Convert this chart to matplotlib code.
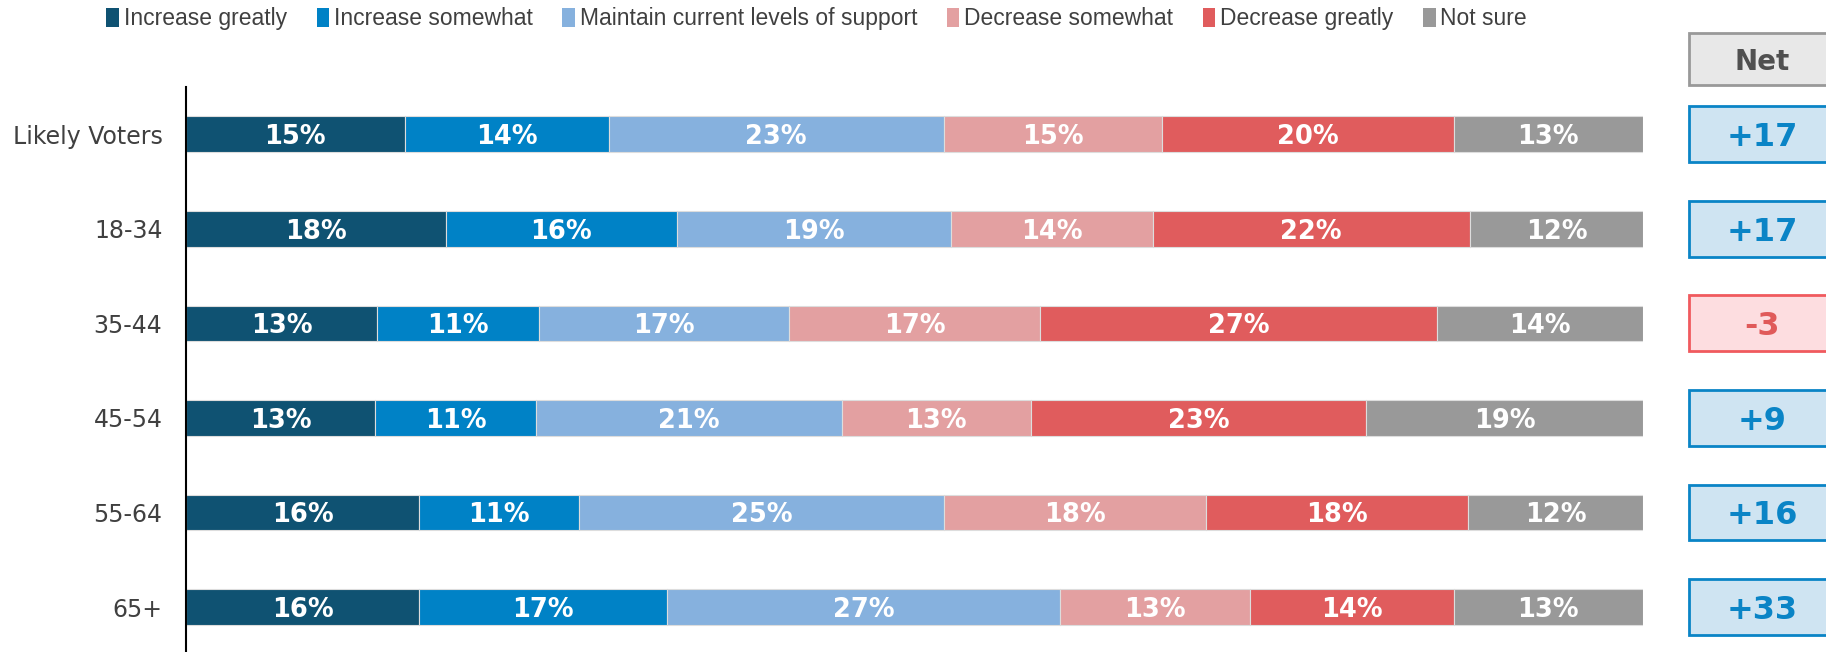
import matplotlib.pyplot as plt
import numpy as np
from matplotlib.patches import Rectangle, Patch

# data
groups = ["Likely Voters", "18-34", "35-44", "45-54", "55-64", "65+"]
series = ["Increase greatly", "Increase somewhat", "Maintain current levels of support",
          "Decrease somewhat", "Decrease greatly", "Not sure"]
increase_greatly = [15, 18, 13, 13, 16, 16]
increase_somewhat = [14, 16, 11, 11, 11, 17]
maintain = [23, 19, 17, 21, 25, 27]
decrease_somewhat = [15, 14, 17, 13, 18, 13]
decrease_greatly = [20, 22, 27, 23, 18, 14]
not_sure = [13, 12, 14, 19, 12, 13]

colors = ["#0f5272", "#0082c6", "#86b1de", "#e3a0a1", "#e05c5d", "#999999"]

vals = np.array([increase_greatly, increase_somewhat, maintain,
                 decrease_somewhat, decrease_greatly, not_sure], dtype=float)
shares = vals / vals.sum(axis=0)  # bars fill the full width
net = vals[0] + vals[1] + vals[2] - vals[3] - vals[4]

fig = plt.figure(figsize=(18.26, 6.52), dpi=100)
ax = fig.add_axes([0.1019, 0.0, 0.7979, 0.8666])

y = np.arange(len(groups))
left = np.zeros(len(groups))
for i in range(len(series)):
    ax.barh(y, shares[i], left=left, height=0.38, color=colors[i],
            edgecolor="#dddddd", linewidth=0.8)
    for j in range(len(groups)):
        ax.text(left[j] + shares[i][j] / 2, y[j], "%d%%" % vals[i][j],
                ha="center", va="center_baseline", color="white",
                fontsize=18.5, fontweight="bold", family="DejaVu Sans")
    left += shares[i]

ax.set_xlim(0, 1)
ax.set_ylim(5.476, -0.502)
ax.set_yticks(y)
ax.set_yticklabels(groups, fontsize=17, color="#404040")
ax.tick_params(axis="y", length=0, pad=17)
ax.set_xticks([])
for s in ["top", "right", "bottom"]:
    ax.spines[s].set_visible(False)
ax.spines["left"].set_linewidth(1.5)

# net column
bx0, bw = 1.0316, 0.1002
ax.add_patch(Rectangle((bx0, -0.798 - 0.275), bw, 0.55, facecolor="#e8e8e8",
                       edgecolor="#999999", linewidth=2, clip_on=False))
ax.text(bx0 + bw / 2, -0.798, "Net", ha="center", va="center_baseline", fontsize=20,
        fontweight="bold", color="#505050", clip_on=False)
for j, n in enumerate(net):
    if n >= 0:
        fc, ec, tc, lab = "#cfe4f2", "#0a84c6", "#0a84c6", "+%d" % n
    else:
        fc, ec, tc, lab = "#fddde0", "#f05a5e", "#e05a5a", "%d" % n
    ax.add_patch(Rectangle((bx0, j - 0.296), bw, 0.592, facecolor=fc,
                           edgecolor=ec, linewidth=2, clip_on=False))
    ax.text(bx0 + bw / 2, j, lab, ha="center", va="center_baseline", fontsize=23,
            fontweight="bold", color=tc, clip_on=False)

handles = [Patch(facecolor=c) for c in colors]
fig.legend(handles, series, loc="center left", bbox_to_anchor=(0.052, 0.971), ncol=6,
           frameon=False, handlelength=0.55, handleheight=0.85, handletextpad=0.2,
           columnspacing=1.3, borderpad=0,
           prop={"family": "Liberation Sans", "size": 16.5},
           labelcolor="#404040")

fig.savefig("out.png", dpi=100)
